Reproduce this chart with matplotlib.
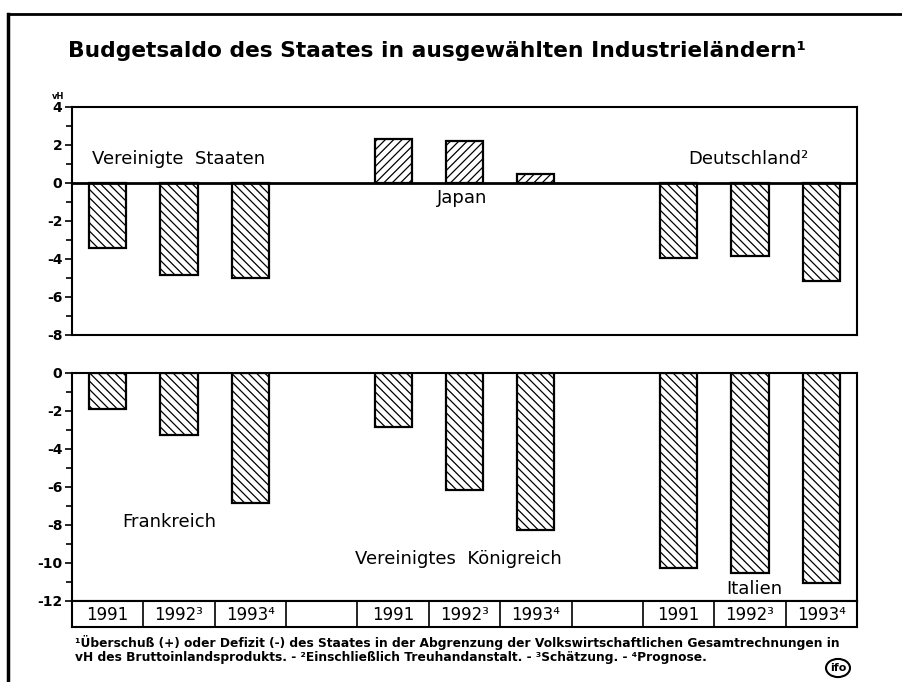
import numpy as np
import matplotlib.pyplot as plt
from matplotlib.lines import Line2D
from matplotlib.patches import Circle

# data (vH des BIP)
years = ['1991', '1992³', '1993⁴']
usa = [-3.4, -4.85, -5.0]
japan = [2.3, 2.2, 0.5]
germany = [-3.95, -3.85, -5.15]
france = [-1.9, -3.25, -6.85]
uk = [-2.85, -6.15, -8.25]
italy = [-10.25, -10.5, -11.05]

top_groups = [usa, japan, germany]
bottom_groups = [france, uk, italy]

plt.rcParams['hatch.linewidth'] = 0.9
plt.rcParams['font.family'] = 'DejaVu Sans'

W, H = 903, 682
fig = plt.figure(figsize=(W / 100, H / 100), dpi=100)

ax1 = fig.add_axes([72 / W, 1 - 335 / H, 785 / W, 228 / H])
ax2 = fig.add_axes([72 / W, 1 - 601 / H, 785 / W, 228 / H])
ax3 = fig.add_axes([72 / W, 1 - 627 / H, 785 / W, 26 / H])


def draw_bars(ax, groups):
    for g, vals in enumerate(groups):
        for i, v in enumerate(vals):
            x = g * 4 + i + 0.5
            hatch = '////' if v > 0 else '\\\\\\\\'
            ax.bar(x, v, width=0.52, color='white', edgecolor='black',
                   linewidth=1.6, hatch=hatch)


draw_bars(ax1, top_groups)
draw_bars(ax2, bottom_groups)

ax1.set_xlim(0, 11)
ax1.set_ylim(-8, 4)
ax1.axhline(0, color='black', lw=2)
ax1.set_yticks(np.arange(-8, 5, 2))
ax1.set_yticks(np.arange(-7, 5, 2), minor=True)

ax2.set_xlim(0, 11)
ax2.set_ylim(-12, 0)
ax2.set_yticks(np.arange(-12, 1, 2))
ax2.set_yticks(np.arange(-11, 0, 2), minor=True)

for ax in (ax1, ax2):
    ax.set_xticks([])
    ax.tick_params(axis='y', direction='out', length=5, width=1.2,
                   labelsize=10, pad=2)
    ax.tick_params(axis='y', which='minor', length=4, width=1.2)
    ax.set_yticklabels([str(int(t)) for t in ax.get_yticks()],
                       fontweight='bold')
    for s in ax.spines.values():
        s.set_linewidth(1.5)

ax1.text(-0.018, 1.045, 'vH', transform=ax1.transAxes, fontsize=6,
         fontweight='bold', ha='center', va='center')

# country labels
lab = dict(fontsize=13)
ax1.text(0.28, 1.26, 'Vereinigte  Staaten', ha='left', va='center', **lab)
ax1.text(5.46, -0.8, 'Japan', ha='center', va='center', **lab)
ax1.text(8.63, 1.26, 'Deutschland²', ha='left', va='center', **lab)
ax2.text(0.7, -7.85, 'Frankreich', ha='left', va='center', **lab)
ax2.text(3.96, -9.8, 'Vereinigtes  Königreich', ha='left', va='center', **lab)
ax2.text(9.17, -11.35, 'Italien', ha='left', va='center', **lab)

# year row
ax3.set_xlim(0, 11)
ax3.set_ylim(0, 1)
ax3.set_xticks([])
ax3.set_yticks([])
for s in ax3.spines.values():
    s.set_linewidth(1.5)
for b in range(1, 11):
    ax3.axvline(b, color='black', lw=1.2)
for g in range(3):
    for i, y in enumerate(years):
        ax3.text(g * 4 + i + 0.5, 0.45, y, ha='center', va='center',
                 fontsize=12)

fig.text(68 / W, 1 - 51 / H,
         'Budgetsaldo des Staates in ausgewählten Industrieländern¹',
         fontsize=15.7, fontweight='bold', ha='left', va='center')

note = dict(fontsize=8.8, fontweight='bold', ha='left', va='center')
fig.text(75 / W, 1 - 643 / H,
         '¹Überschuß (+) oder Defizit (-) des Staates in der Abgrenzung der '
         'Volkswirtschaftlichen Gesamtrechnungen in', **note)
fig.text(75 / W, 1 - 658 / H,
         'vH des Bruttoinlandsprodukts. - ²Einschließlich Treuhandanstalt. - '
         '³Schätzung. - ⁴Prognose.', **note)

# page frame
fig.add_artist(Line2D([8 / W, 1], [1 - 14 / H, 1 - 14 / H], color='black', lw=2))
fig.add_artist(Line2D([8 / W, 8 / W], [0, 1 - 14 / H], color='black', lw=2.5))

# logo
logo = Circle((838 / W, 1 - 668 / H), 12 / W, transform=fig.transFigure,
              fill=False, lw=1.5, color='black')
fig.add_artist(logo)
fig.text(838 / W, 1 - 668 / H, 'ifo', fontsize=8, fontweight='bold',
         ha='center', va='center')

fig.savefig('out.png', dpi=100)
